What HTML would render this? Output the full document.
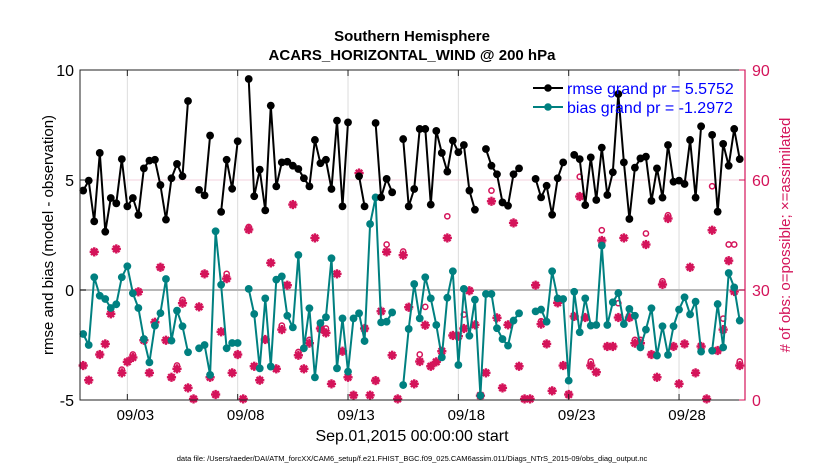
<!DOCTYPE html>
<html><head><meta charset="utf-8"><style>
body{margin:0;background:#fff;}
svg text{font-family:"Liberation Sans",sans-serif;}
</style></head><body>
<svg id="chart" width="830" height="470" viewBox="0 0 830 470" xmlns="http://www.w3.org/2000/svg">
<rect width="830" height="470" fill="#fff"/>
<text x="412" y="41" text-anchor="middle" font-size="15" font-weight="bold">Southern Hemisphere</text>
<text x="412" y="60" text-anchor="middle" font-size="15" font-weight="bold">ACARS_HORIZONTAL_WIND @ 200 hPa</text>
<g id="grid"></g>
<g id="marks"></g>
<rect x="80" y="70" width="665" height="330" fill="none" stroke="#222" stroke-width="1"/>
<line x1="745" y1="70" x2="745" y2="400" stroke="#d4145a" stroke-width="1.2"/>
<g id="axes"></g>
<text transform="translate(53,235) rotate(-90)" text-anchor="middle" font-size="15">rmse and bias (model - observation)</text>
<text transform="translate(790,235) rotate(-90)" text-anchor="middle" font-size="15" fill="#d4145a"># of obs: o=possible; ×=assimilated</text>
<text x="412" y="441" text-anchor="middle" font-size="16">Sep.01,2015 00:00:00 start</text>
<text x="412" y="461" text-anchor="middle" font-size="7.5">data file: /Users/raeder/DAI/ATM_forcXX/CAM6_setup/f.e21.FHIST_BGC.f09_025.CAM6assim.011/Diags_NTrS_2015-09/obs_diag_output.nc</text>
<g>
<line x1="533" y1="88" x2="563" y2="88" stroke="#000" stroke-width="2"/><circle cx="548" cy="88" r="3.8" fill="#000"/>
<text x="567" y="94" font-size="16" fill="#0000ff">rmse grand pr = 5.5752</text>
<line x1="533" y1="107" x2="563" y2="107" stroke="#008080" stroke-width="2"/><circle cx="548" cy="107" r="3.8" fill="#008080"/>
<text x="567" y="113" font-size="16" fill="#0000ff">bias grand pr = -1.2972</text>
</g>
</svg>
<script>
const rmse=[4.52,4.97,3.12,6.23,2.65,4.18,3.94,5.95,3.8,4.18,3.41,5.53,5.88,5.92,4.77,3.2,5.08,5.73,5.17,8.59,null,4.55,4.3,7.02,null,3.55,5.92,4.6,6.76,null,
9.59,4.26,5.47,3.62,8.38,4.71,5.8,5.83,5.65,5.5,5.08,4.71,6.82,5.76,5.92,4.59,7.7,3.8,7.62,null,5.17,3.8,null,7.59,4.21,5.05,4.44,null,6.86,3.8,
4.59,7.32,7.32,3.88,7.23,6.23,5.38,6.79,6.26,6.59,4.52,3.65,null,6.41,5.65,5.26,3.98,3.83,5.26,5.53,null,null,5.05,4.21,4.74,3.42,5.08,5.8,null,6.14,
5.95,3.86,6.03,4.09,6.47,4.32,5.35,8.91,5.8,3.23,5.56,5.98,6.06,4.05,5.53,4.2,6.59,4.92,4.97,4.82,6.82,4.2,7.44,null,7.05,3.56,6.64,5.65,7.32,5.95];
const bias=[-2.0,-2.5,0.58,-0.26,-0.41,-0.82,-0.65,0.58,1.08,-0.15,-0.82,-2.23,-3.29,-1.62,-1.05,0.5,-2.3,-0.94,-1.65,-2.83,null,-2.65,-2.5,-3.86,2.67,0.24,-2.65,-2.41,-2.41,null,
0.05,-1.09,-3.56,-0.38,-3.48,0.47,0.62,-1.17,-1.7,1.59,-2.65,-0.83,-3.97,-1.5,-1.24,1.44,-3.56,-1.29,-3.71,-1.29,-1.06,-2.32,3.0,4.21,-1.47,-1.44,-1.02,null,-4.32,-1.77,
0.27,-1.29,0.58,-0.38,-1.59,-3.06,-0.35,0.85,-3.41,0.05,-2.08,-0.44,-4.8,-0.18,-0.18,-1.74,-2.23,-2.53,-1.39,-1.06,null,null,-0.97,-0.89,-1.44,0.85,-0.38,-0.41,-4.12,-0.08,
-1.92,-0.38,-1.62,-1.59,2.02,-1.59,-0.56,-0.14,-1.55,-0.86,-1.17,-2.61,-1.8,-0.83,-2.98,-1.65,-2.95,-1.65,-0.89,-0.33,-1.11,-0.53,-2.8,null,-2.76,-0.64,-2.61,0.77,0.12,-1.39];
const nUsed=[9.4,5.4,40.4,12.4,15.3,23.5,41.2,7.4,10.4,11.6,29.5,16.3,7.4,21.2,36.2,16.3,6.2,8.5,26.4,3.3,0.3,25.4,34.4,6.2,1.5,18.6,33.1,7.4,12.4,0.3,
46.5,9.2,5.4,16.5,37.4,8.5,19.2,31.3,53.3,12.2,8.5,15.5,44.2,19.5,18.3,4.4,34.4,13.3,6.2,1.3,61.9,19.5,1.3,5.3,24.2,40.4,12.2,0.3,39.5,25.3,
4.4,10.5,20.4,9.2,10.4,13.3,44.2,17.6,17.4,19.5,29.8,20.5,1.2,7.4,54.2,22.4,3.3,20.5,48.3,9.2,0.3,0.3,31.3,20.7,15.3,2.5,26.5,9.4,1.5,22.8,
55.5,22.5,9.4,7.6,43.5,14.6,14.6,22.5,44.2,22.5,15.5,15.5,42.4,12.4,6.2,31.5,49.5,14.6,4.4,15.3,36.2,7.4,14.6,0.3,46.3,13.5,19.2,38.0,29.6,9.4];
const nPossExtra={7:8.3,9:12.4,17:9.4,18:27.3,26:34.4,30:47.2,36:20.3,39:13.1,41:16.4,44:19.5,55:42.4,58:40.5,61:12.4,62:25.4,66:50.1,69:23.3,74:57.1,83:21.5,90:60.9,92:10.5,94:46.3,97:26.4,100:16.4,101:16.4,102:45.4,105:32.4,106:50.4,114:58.3,116:22.2,117:42.4,118:42.4,119:10.5};
const nPoss=nUsed.map((v,i)=>nPossExtra[i]!==undefined?nPossExtra[i]:v);
const dayTicks=[3,8,13,18,23,28];
const dayLabels=["09/03","09/08","09/13","09/18","09/23","09/28"];
const leftTicks=[10,5,0,-5];
const rightTicks=[90,60,30,0];

const NS="http://www.w3.org/2000/svg";
const X0=83.2,DX=5.517,PX=80,PW=665,PT=70,PH=330;
const xi=i=>X0+i*DX;
const xd=d=>X0+(d-1)*4*DX;
const yL=v=>PT+(10-v)/15*PH;
const yR=v=>PT+(90-v)/90*PH;
function mk(tag,attrs,parent){const e=document.createElementNS(NS,tag);for(const k in attrs)e.setAttribute(k,attrs[k]);parent.appendChild(e);return e;}
const grid=document.getElementById('grid'),marks=document.getElementById('marks'),axes=document.getElementById('axes');

dayTicks.forEach((d,k)=>{
  const x=xd(d);
  const g=mk('line',{x1:x,y1:PT,x2:x,y2:PT+PH,stroke:'#dcdcdc','stroke-width':1},grid);
  
  
  mk('line',{x1:x,y1:PT+PH,x2:x,y2:PT+PH-6,stroke:'#222'},axes);
  mk('line',{x1:x,y1:PT,x2:x,y2:PT+6,stroke:'#222'},axes);
  const t=mk('text',{x:x+8,y:PT+PH+20,'text-anchor':'middle','font-size':15},axes);
  t.textContent=dayLabels[k];
  
  
});
rightTicks.forEach(v=>{
  const y=yR(v);
  if(v>0&&v<90){const g=mk('line',{x1:PX,y1:y,x2:PX+PW,y2:y,stroke:'#f3d0dc','stroke-width':1},grid);
  
  }
  mk('line',{x1:PX+PW,y1:y,x2:PX+PW-6,y2:y,stroke:'#d4145a'},axes);
  const t=mk('text',{x:PX+PW+7,y:y+6,'font-size':16,fill:'#d4145a'},axes);
  t.textContent=v;
  
  
});
leftTicks.forEach(v=>{
  const y=yL(v);
  mk('line',{x1:PX,y1:y,x2:PX+6,y2:y,stroke:'#222'},axes);
  const t=mk('text',{x:PX-6,y:y+6,'text-anchor':'end','font-size':16},axes);
  t.textContent=v;
  
  
});
const zl=mk('line',{x1:PX,y1:yL(0),x2:PX+PW,y2:yL(0),stroke:'#b8b8b8','stroke-width':2},grid);



nPoss.forEach((v,i)=>{
  const c=mk('circle',{cx:xi(i),cy:yR(v),r:2.6,fill:'none',stroke:'#d4145a','stroke-width':1.5},marks);
  
  
});
nUsed.forEach((v,i)=>{
  const x=xi(i),y=yR(v),r=4.6;
  const g=mk('g',{stroke:'#d4145a','stroke-width':2.4},marks);
  
  
  mk('line',{x1:x-r,y1:y,x2:x+r,y2:y},g);
  mk('line',{x1:x,y1:y-r,x2:x,y2:y+r},g);
  mk('line',{x1:x-r*.7,y1:y-r*.7,x2:x+r*.7,y2:y+r*.7},g);
  mk('line',{x1:x-r*.7,y1:y+r*.7,x2:x+r*.7,y2:y-r*.7},g);
});
function series(arr,color,name){
  let d='',pen=false;
  arr.forEach((v,i)=>{if(v===null){pen=false;return;}d+=(pen?'L':'M')+xi(i).toFixed(1)+' '+yL(v).toFixed(1)+' ';pen=true;});
  const p=mk('path',{d:d,fill:'none',stroke:color,'stroke-width':2,'stroke-linejoin':'round'},marks);
  
  
  arr.forEach((v,i)=>{if(v===null)return;
    const c=mk('circle',{cx:xi(i),cy:yL(v),r:3.9,fill:color},marks);
    
    
  });
}
series(bias,'#008080','bias');
series(rmse,'#000000','rmse');
</script>
</body></html>
